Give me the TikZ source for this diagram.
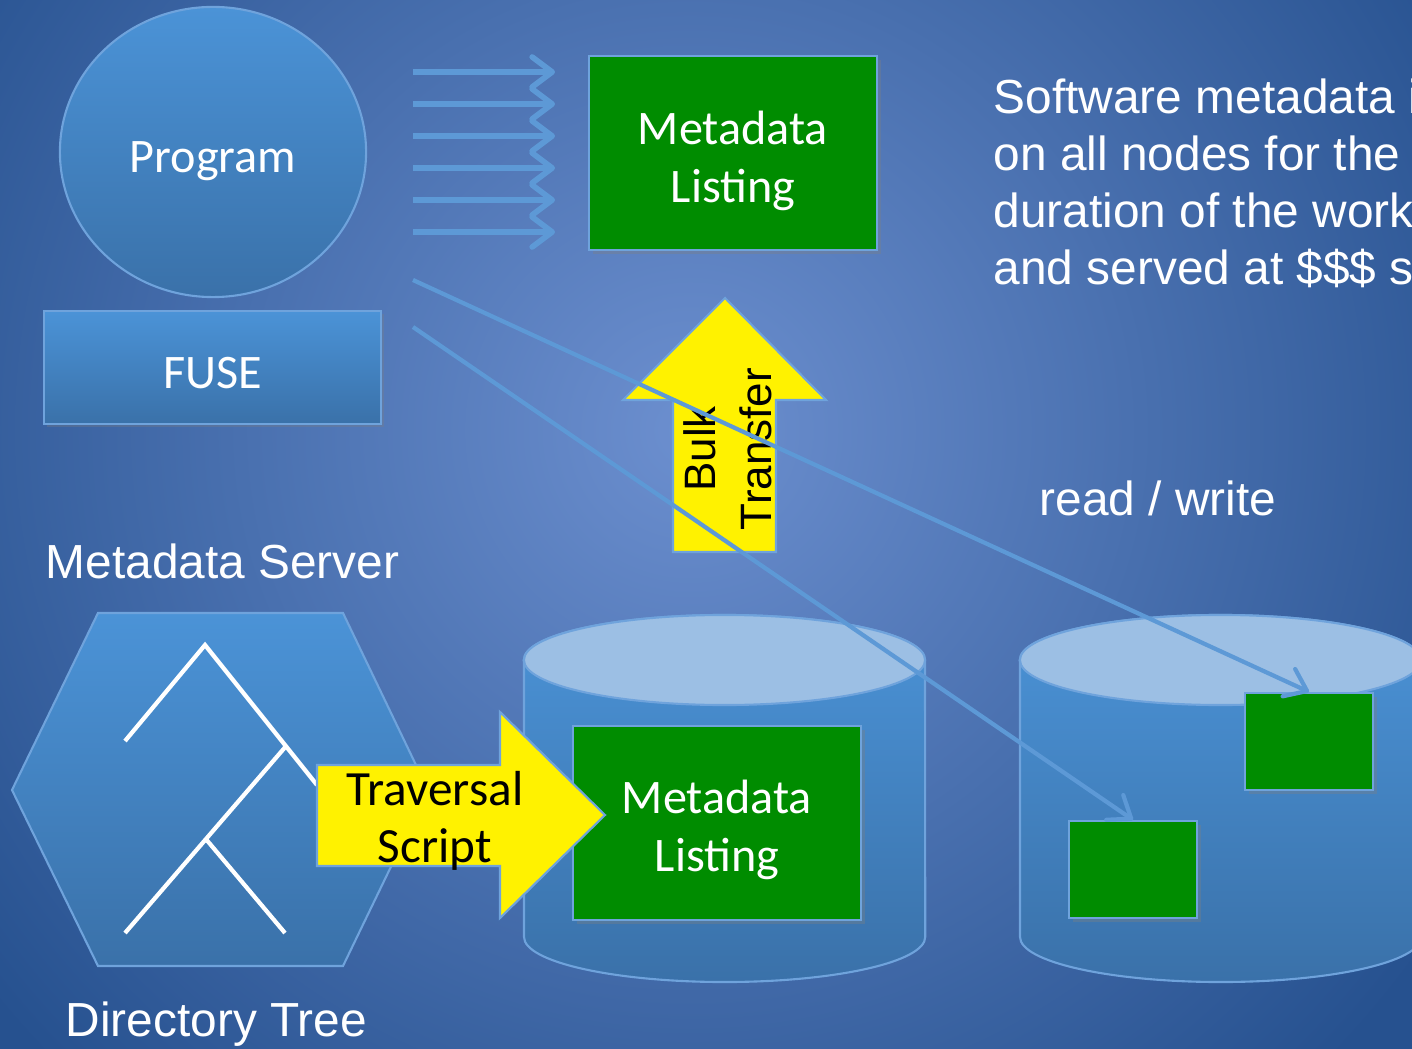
\documentclass[tikz,border=0pt]{standalone}
\usepackage{fontspec}
\setmainfont{Liberation Sans}
\newfontfamily\calib{Carlito}
\usetikzlibrary{arrows.meta}
\usetikzlibrary{shapes.geometric}
\usetikzlibrary{shadows}
\definecolor{bgin}{HTML}{6C8FCF}
\definecolor{bgout}{HTML}{26518F}
\definecolor{boxtop}{HTML}{4B93D7}
\definecolor{boxbot}{HTML}{3A71A9}
\definecolor{boxline}{HTML}{6FA3DC}
\definecolor{drumtop}{HTML}{9CBFE4}
\definecolor{listgreen}{HTML}{008C00}
\definecolor{flowblue}{HTML}{5D99D6}
\tikzset{
    bluebox/.style={
        draw=boxline, line width=0.6pt,
        top color=boxtop, bottom color=boxbot,
        inner sep=0
    },
    greenbox/.style={
        draw=boxline, line width=0.6pt, fill=listgreen,
        inner sep=0,
        drop shadow={opacity=0.35, shadow xshift=0.04cm, shadow yshift=-0.04cm}
    },
    boxtext/.style={
        text=white, align=center, inner sep=0,
        font=\calib\fontsize{13.7}{16.4}\selectfont
    },
    yellowarrow/.style={draw=boxline, line width=0.6pt, fill=yellow},
    flow/.style={
        draw=flowblue, line width=1.6pt,
        -{Straight Barb[round, length=0.2cm, width=0.3cm]}
    },
    slide/.style={
        text=white, align=left, inner sep=0,
        font=\fontsize{13.6}{16.2}\selectfont
    }
}
\newcommand{\drum}[1] {
	\path[draw=boxline, line width=0.6pt, top color=boxtop, bottom color=boxbot]
		(#1-200.5,660) -- (#1-200.5,937)
		arc[start angle=180, end angle=360, x radius=2.005cm, y radius=0.45cm]
		-- (#1+200.5,660)
		arc[start angle=0, end angle=180, x radius=2.005cm, y radius=0.45cm] -- cycle;
	\filldraw[draw=boxline, line width=0.6pt, fill=drumtop] (#1,660) ellipse [x radius=2.005cm, y radius=0.45cm];
}

\begin{document}
\begin{tikzpicture}[x=0.01cm, y=-0.01cm]
		\useasboundingbox (0,0) rectangle (1412,1049);
		\clip (0,0) rectangle (1412,1049);

		% Backdrop
		\fill[bgout] (0,0) rectangle (1412,1049);
		\shade[inner color=bgin, outer color=bgout] (690,430) circle [radius=9cm];

		% Client side
		\node[bluebox, ellipse, minimum width=3.06cm, minimum height=2.90cm] (prog) at (213,152) {};
		\node[boxtext] (progtext) at (213,161) {Program};
		\node[bluebox, minimum width=3.37cm, minimum height=1.13cm,
			drop shadow={opacity=0.3, shadow xshift=0.03cm, shadow yshift=-0.03cm}] (fuse) at (212.5,367.5) {};
		\node[boxtext] (fusetext) at (213,373) {FUSE};

		\foreach \i in {0,...,5} {
			\coordinate (s\i) at (413,72+32*\i);
			\coordinate (e\i) at (555,72+32*\i);
			\draw[flow] (s\i) -- (e\i);
		}

		\node[greenbox, minimum width=2.88cm, minimum height=1.94cm] (toplist) at (733,153) {};
		\node[boxtext] (toptext) at (733,161) {Metadata\\Listing};

		% Storage
		\drum{724.5}
		\drum{1220.5}

		\node[greenbox, minimum width=2.88cm, minimum height=1.94cm] (botlist) at (717,823) {};
		\node[boxtext] (bottext) at (717,830) {Metadata\\Listing};
		\node[greenbox, minimum width=1.28cm, minimum height=0.97cm] (ga) at (1309,741.5) {};
		\node[greenbox, minimum width=1.28cm, minimum height=0.97cm] (gb) at (1133,869.5) {};

		% Metadata server
		\path[draw=boxline, line width=0.6pt, top color=boxtop, bottom color=boxbot]
			(98,613) -- (343,613) -- (428,790) -- (343,966) -- (98,966) -- (12,790) -- cycle;
		\draw[white, line width=1.2pt] (125,741) -- (205,645) -- (317,785);
		\draw[white, line width=1.2pt] (287,745) -- (125,933);
		\draw[white, line width=1.2pt] (205,838) -- (285,933);

		\draw[yellowarrow] (317,765) -- (500,765) -- (500,712) -- (605,815) -- (500,918) -- (500,866) -- (317,866) -- cycle;
		\node[boxtext, text=black, font=\calib\fontsize{14}{16.4}\selectfont] (trav) at (435,821) {Traversal\\Script};

		\draw[yellowarrow] (673,552) -- (673,400) -- (623,400) -- (725,298) -- (826,400) -- (776,400) -- (776,552) -- cycle;
		\node[rotate=90, align=center, inner sep=0, font=\fontsize{12.5}{15.9}\selectfont] (bulk) at (728,449) {Bulk\\Transfer};

		% read / write
		\coordinate (rw1) at (413,280);
		\coordinate (rw2) at (413,327);
		\draw[flow, line width=1.2pt] (rw1) -- (ga.north);
		\draw[flow, line width=1.2pt] (rw2) -- (gb.north);

		% Labels
		\node[slide, anchor=west] (note) at (993,183) {Software metadata i\\on all nodes for the\\duration of the work\\and served at \$\$\$ s};
		\node[slide] (rw) at (1158,498) {read / write};
		\node[slide, anchor=west] (mds) at (45,561) {Metadata Server};
		\node[slide, anchor=west] (dirtree) at (65,1024) {Directory Tree};
\end{tikzpicture}
\end{document}
